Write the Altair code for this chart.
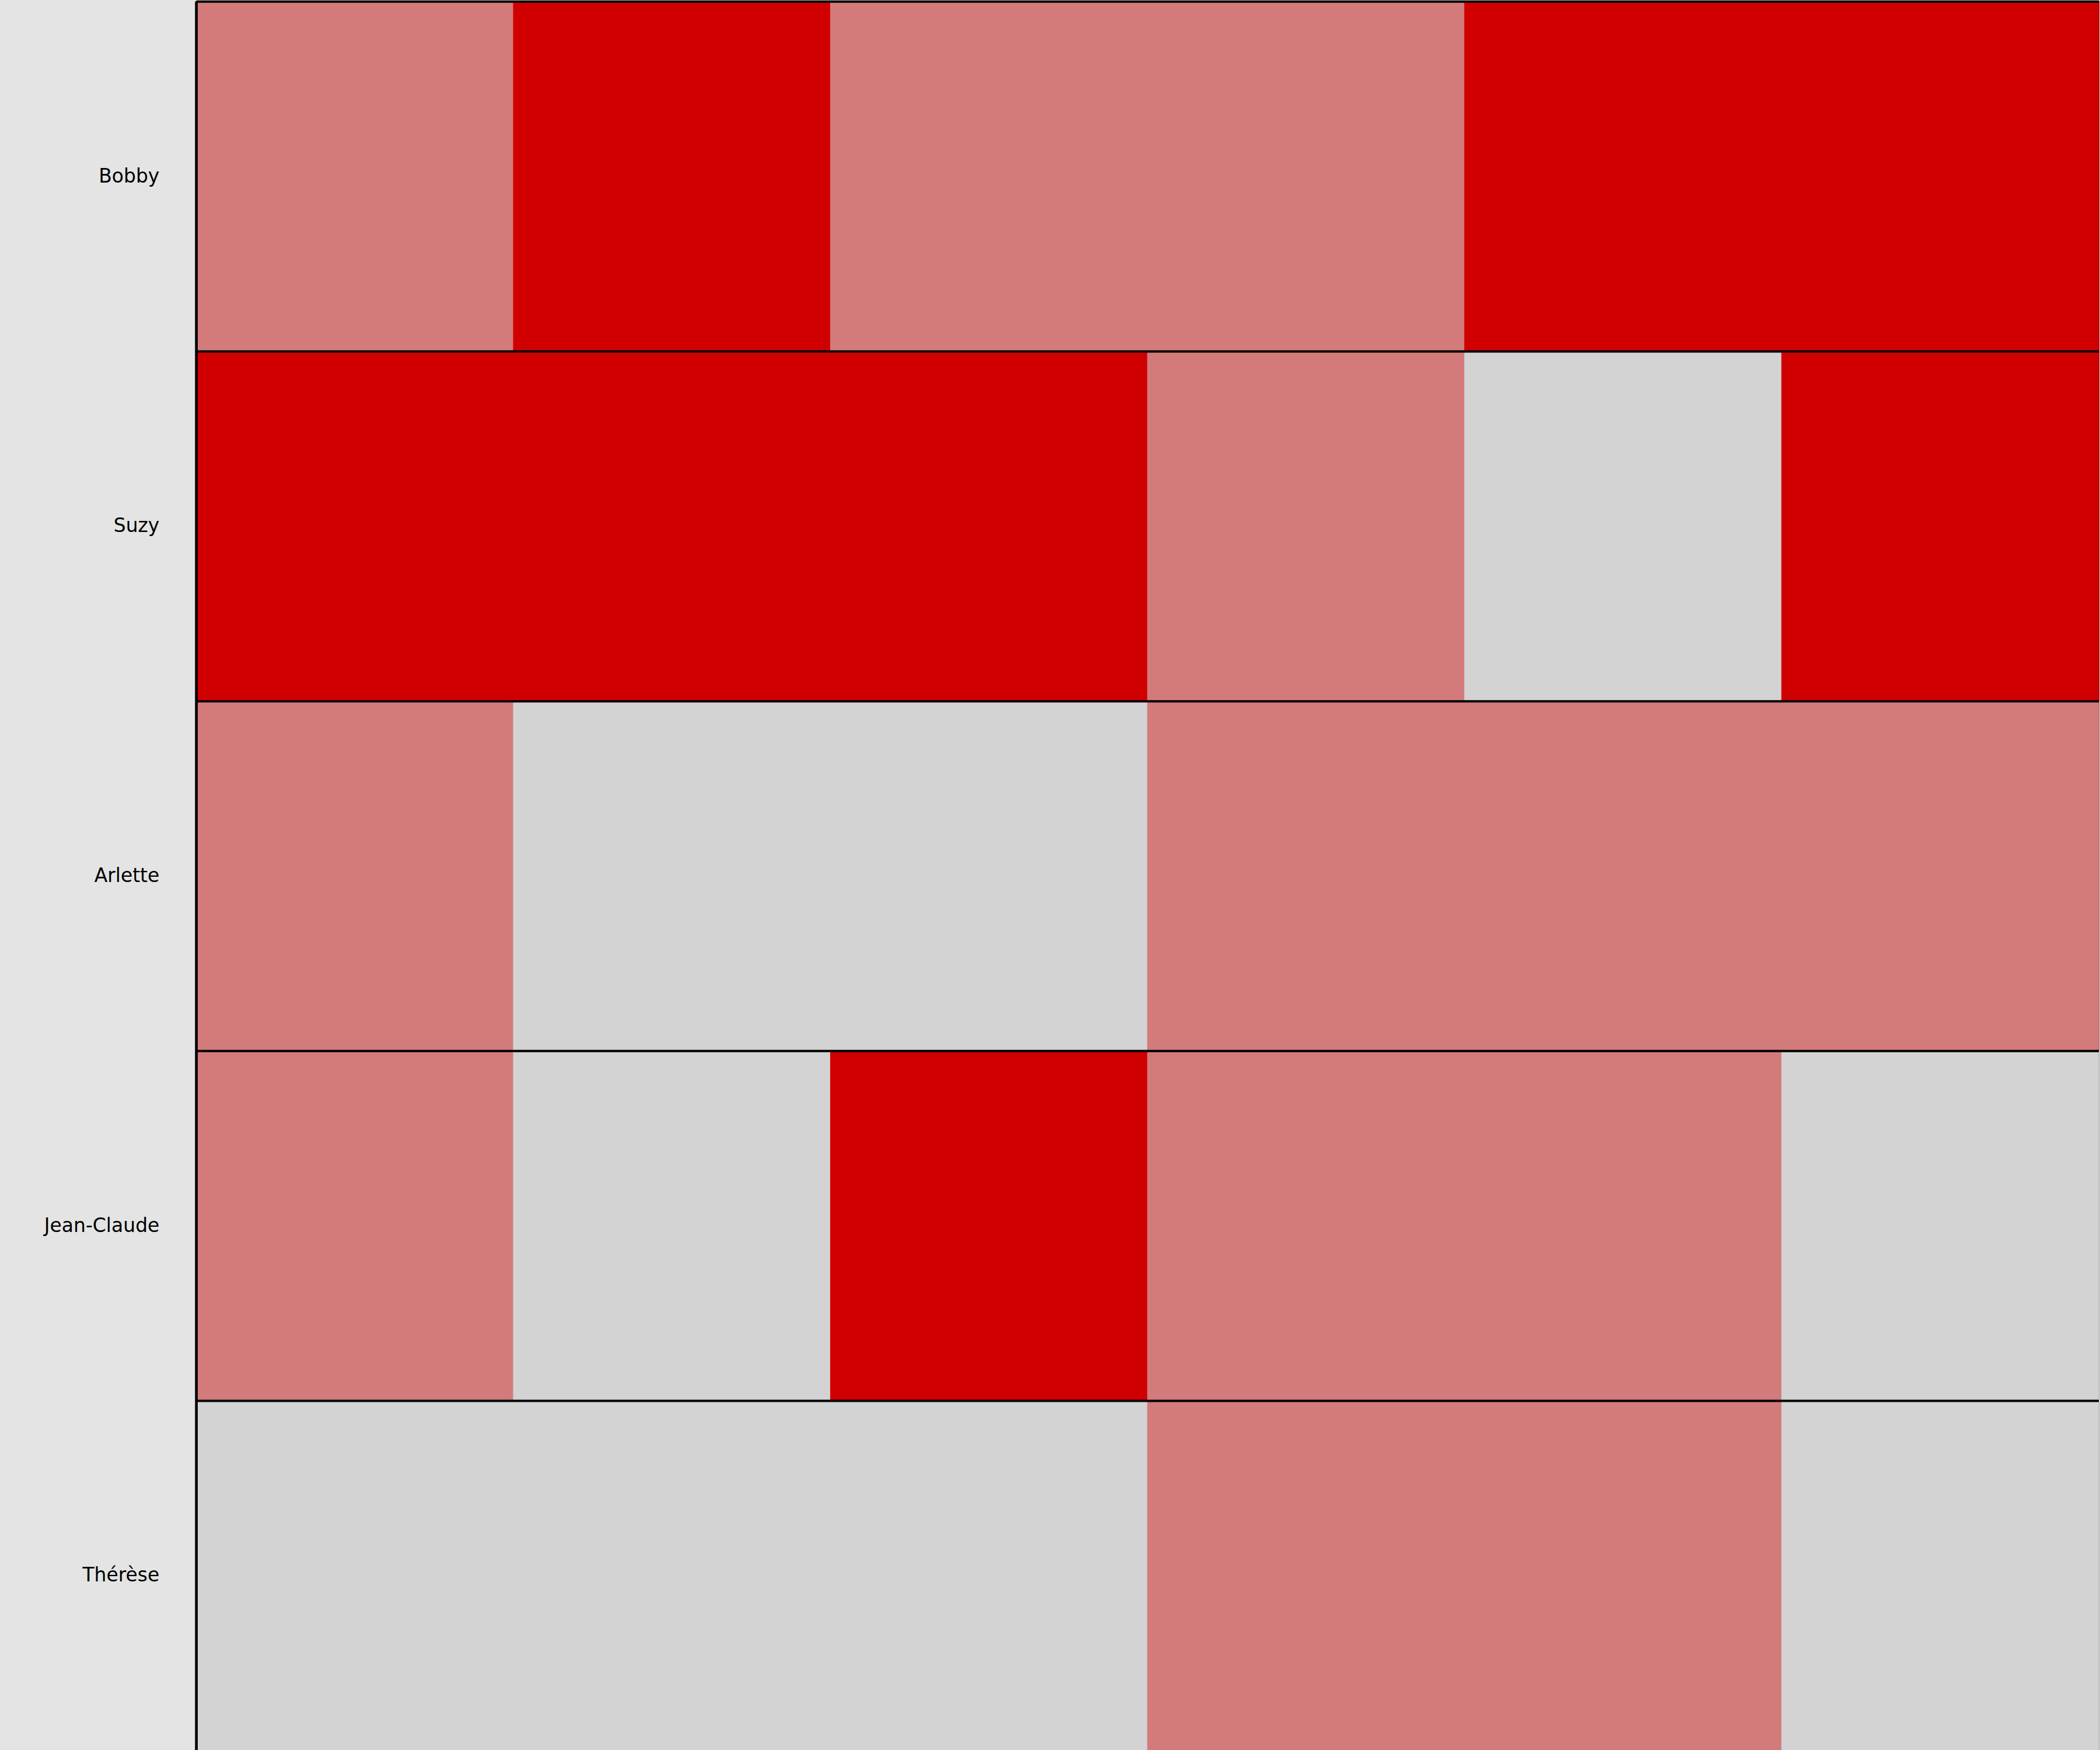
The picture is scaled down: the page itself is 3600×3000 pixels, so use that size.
import altair as alt
import pandas as pd

names = ["Bobby", "Suzy", "Arlette", "Jean-Claude", "Thérèse"]
columns = ["1", "2", "3", "4", "5", "6"]
levels = ["fort", "moyen", "aucun"]
level_colors = ["#D10000", "#D37B7A", "#D3D3D3"]

bobby = ["moyen", "fort", "moyen", "moyen", "fort", "fort"]
suzy = ["fort", "fort", "fort", "moyen", "aucun", "fort"]
arlette = ["moyen", "aucun", "aucun", "moyen", "moyen", "moyen"]
jean_claude = ["moyen", "aucun", "fort", "moyen", "moyen", "aucun"]
therese = ["aucun", "aucun", "aucun", "moyen", "moyen", "aucun"]

rows = [bobby, suzy, arlette, jean_claude, therese]
records = []
for n, r in zip(names, rows):
    for c, v in zip(columns, r):
        records.append({"name": n, "col": c, "level": v})
df = pd.DataFrame(records)
bounds = pd.DataFrame({"name": names})

yscale = alt.Scale(domain=names, paddingInner=0, paddingOuter=0)
cscale = alt.Scale(domain=levels, range=level_colors)

cells = alt.Chart(df).mark_rect(strokeWidth=1.5).encode(
    x=alt.X("col:N", sort=columns, scale=alt.Scale(paddingInner=0, paddingOuter=0), axis=None),
    y=alt.Y("name:N", sort=names, scale=yscale,
            axis=alt.Axis(title=None, ticks=False, domain=False, labelFont="DejaVu Sans",
                          labelFontSize=33, labelColor="black", labelPadding=64,
                          labelLimit=0, minExtent=337, maxExtent=337)),
    color=alt.Color("level:N", scale=cscale, legend=None),
    stroke=alt.Stroke("level:N", scale=cscale, legend=None),
)

lines = alt.Chart(bounds).mark_rule(color="black", strokeWidth=4).encode(
    y=alt.Y("name:N", sort=names, scale=yscale, bandPosition=0),
)

left = alt.Chart(bounds).mark_rule(color="black", strokeWidth=4).encode(
    x=alt.value(0), y=alt.value(0), y2=alt.value(3000),
)

chart = alt.layer(cells, lines, left).properties(
    width=3263, height=3000, background="#E3E4E3", padding=0
).configure_view(stroke="black", strokeWidth=2)

chart.save("out.html", embed_options={"renderer": "svg", "actions": False})
